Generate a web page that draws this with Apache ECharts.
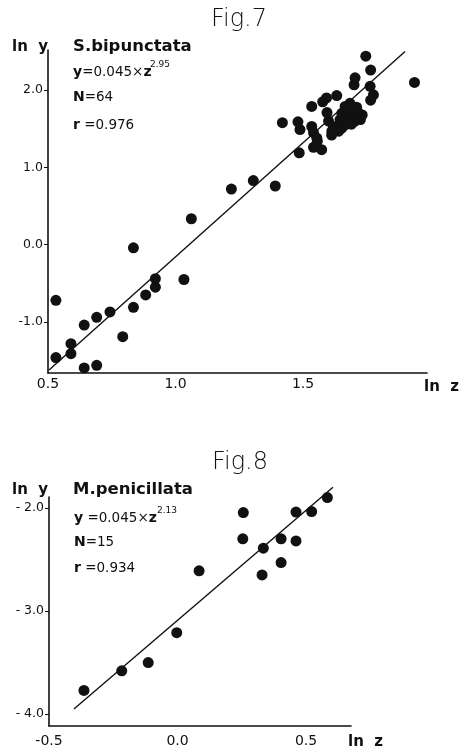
<!DOCTYPE html>
<html><head><meta charset="utf-8">
<script src="https://cdn.jsdelivr.net/npm/echarts@6/dist/echarts.min.js"></script>
<style>html,body{margin:0;padding:0;background:#fff}#c{width:461px;height:748px}</style>
</head><body><div id="c"></div>
<script>
// ---------- Fig.7  S.bipunctata ----------
const fig7LnZ = [
  0.531,0.531,0.590,0.590,0.642,0.642,0.691,0.691,0.743,0.793,
  0.835,0.835,0.883,0.921,0.921,1.033,1.062,1.219,1.305,1.391,
  1.419,1.480,1.488,1.485,1.534,1.534,1.541,1.554,1.541,1.573,
  1.577,1.592,1.594,1.613,1.619,1.632,1.645,1.652,1.652,1.665,
  1.665,1.671,1.684,1.684,1.697,1.704,1.700,1.704,1.719,1.732,
  1.746,1.765,1.763,1.776,1.765,1.937,1.612,1.556,1.690,1.640,
  1.710,1.600,1.725,1.680
];
const fig7LnY = [
  -0.72,-1.46,-1.28,-1.41,-1.04,-1.595,-0.94,-1.56,-0.87,-1.19,
  -0.04,-0.81,-0.65,-0.44,-0.55,-0.45,0.336,0.72,0.83,0.76,
  1.58,1.59,1.49,1.19,1.79,1.53,1.45,1.38,1.26,1.23,
  1.85,1.90,1.71,1.47,1.53,1.93,1.62,1.51,1.70,1.79,
  1.55,1.66,1.83,1.66,1.75,2.16,2.07,1.60,1.70,1.68,
  2.44,2.26,2.05,1.94,1.87,2.10,1.42,1.34,1.56,1.47,
  1.78,1.60,1.62,1.72
];
const fig7LineZ = [0.504, 1.90];
const fig7LineY = [-1.62, 2.50];
const fig7XTicks = [0.5, 1.0, 1.5];
const fig7YTicks = [-1.0, 0.0, 1.0, 2.0];

// ---------- Fig.8  M.penicillata ----------
const fig8LnZ = [-0.364,-0.217,-0.114,-0.003,0.084,0.256,0.254,0.334,0.329,0.403,0.403,0.461,0.461,0.522,0.583];
const fig8LnY = [-3.77,-3.58,-3.50,-3.21,-2.61,-2.045,-2.30,-2.39,-2.65,-2.30,-2.53,-2.04,-2.32,-2.035,-1.90];
const fig8LineZ = [-0.403, 0.605];
const fig8LineY = [-3.95, -1.80];
const fig8XTicks = [-0.5, 0.0, 0.5];
const fig8YTicks = [-4.0, -3.0, -2.0];

const zip = (a, b) => a.map((v, i) => [v, b[i]]);

const FONT = "'DejaVu Sans', sans-serif";
const axisLineStyle = { color: '#111', width: 1.6 };

function xAxisCfg(gridIndex, min, max, ticks, margin) {
  return {
    type: 'value', gridIndex, min, max,
    axisLine: { show: true, onZero: false, lineStyle: axisLineStyle },
    axisTick: { show: false },
    splitLine: { show: false },
    axisLabel: {
      customValues: ticks, margin, color: '#111', fontSize: 14, fontFamily: FONT,
      formatter: v => v.toFixed(1)
    }
  };
}
function yAxisCfg(gridIndex, min, max, ticks, fmt) {
  return {
    type: 'value', gridIndex, min, max,
    axisLine: { show: true, onZero: false, lineStyle: axisLineStyle },
    axisTick: { show: true, customValues: ticks, length: 4, inside: false, lineStyle: { color: '#111', width: 1 } },
    splitLine: { show: false },
    axisLabel: {
      customValues: ticks, margin: 5, color: '#111', fontSize: 12.5, fontFamily: FONT,
      formatter: fmt
    }
  };
}

const txt = (text, x, y, size, weight) => ({
  type: 'text', x, y,
  style: { text, fill: '#111', font: `${weight} ${size}px ${FONT}`, textVerticalAlign: 'middle', textAlign: 'left' }
});

const richStyles = {
  b: { fontFamily: FONT, fontWeight: 'bold', fontSize: 14, fill: '#111' },
  n: { fontFamily: FONT, fontWeight: 'normal', fontSize: 13.5, fill: '#111' }
};
const richTxt = (text, x, y) => ({
  type: 'text', x, y,
  style: { text, textVerticalAlign: 'middle', rich: richStyles }
});

const option = {
  backgroundColor: '#fff',
  animation: false,
  grid: [
    { left: 48, top: 50, width: 379, height: 323 },
    { left: 49, top: 497, width: 302, height: 230 }
  ],
  xAxis: [
    xAxisCfg(0, 0.5, 1.986, fig7XTicks, 4),
    xAxisCfg(1, -0.5, 0.675, fig8XTicks, 8)
  ],
  yAxis: [
    yAxisCfg(0, -1.66, 2.52, fig7YTicks, v => v.toFixed(1)),
    yAxisCfg(1, -4.115, -1.894, fig8YTicks, v => '- ' + Math.abs(v).toFixed(1))
  ],
  series: [
    { type: 'scatter', xAxisIndex: 0, yAxisIndex: 0, data: zip(fig7LnZ, fig7LnY),
      symbolSize: 11, itemStyle: { color: '#111', opacity: 1 } },
    { type: 'line', xAxisIndex: 0, yAxisIndex: 0, data: zip(fig7LineZ, fig7LineY), clip: false,
      symbol: 'none', lineStyle: { color: '#111', width: 1.4 } },
    { type: 'scatter', xAxisIndex: 1, yAxisIndex: 1, data: zip(fig8LnZ, fig8LnY),
      symbolSize: 11, itemStyle: { color: '#111', opacity: 1 } },
    { type: 'line', xAxisIndex: 1, yAxisIndex: 1, data: zip(fig8LineZ, fig8LineY), clip: false,
      symbol: 'none', lineStyle: { color: '#111', width: 1.4 } }
  ],
  graphic: [
    // Fig.7
    { type: 'text', x: 239, y: 20, style: { text: 'Fig.7', fill: '#111', font: `200 24px ${FONT}`, textAlign: 'center', textVerticalAlign: 'middle' } },
    txt('ln  y', 12, 47, 15, 'bold'),
    txt('S.bipunctata', 73, 47, 16.5, 'bold'),
    richTxt('{b|y}{n|=0.045×}{b|z}', 73, 72),
    txt('2.95', 150, 65, 9, 'normal'),
    richTxt('{b|N}{n|=64}', 73, 97),
    richTxt('{b|r}{n| =0.976}', 73, 125),
    txt('ln  z', 424, 387, 15, 'bold'),
    // Fig.8
    { type: 'text', x: 240, y: 463, style: { text: 'Fig.8', fill: '#111', font: `200 24px ${FONT}`, textAlign: 'center', textVerticalAlign: 'middle' } },
    txt('ln  y', 12, 490, 15, 'bold'),
    txt('M.penicillata', 73, 490, 16.5, 'bold'),
    richTxt('{b|y}{n| =0.045×}{b|z}', 74, 518),
    txt('2.13', 157, 511, 9, 'normal'),
    richTxt('{b|N}{n|=15}', 74, 542),
    richTxt('{b|r}{n| =0.934}', 74, 568),
    txt('ln  z', 348, 742, 15, 'bold')
  ]
};

const chart = echarts.init(document.getElementById('c'), null, { renderer: 'canvas' });
chart.setOption(option);
</script>
</body></html>
